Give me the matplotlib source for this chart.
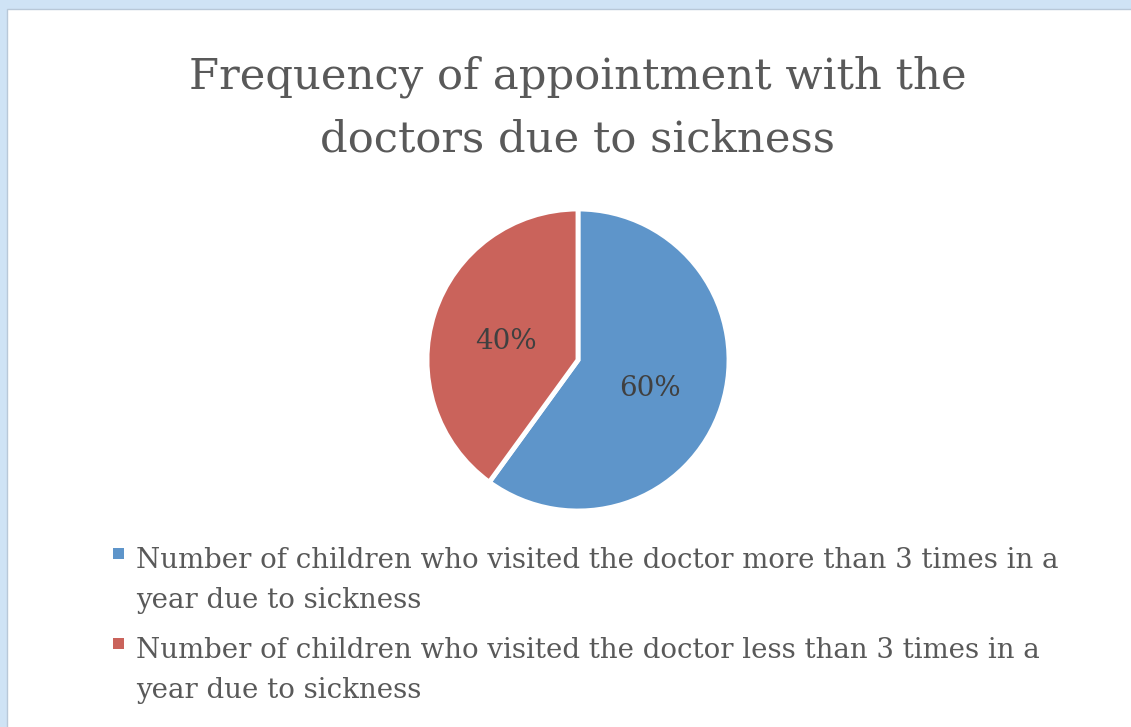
import matplotlib
matplotlib.use("Agg")
import matplotlib.pyplot as plt
from matplotlib.patches import Rectangle
from matplotlib.transforms import offset_copy

title_lines = ["Frequency of appointment with the", "doctors due to sickness"]
categories = [
    "Number of children who visited the doctor more than 3 times in a\nyear due to sickness",
    "Number of children who visited the doctor less than 3 times in a\nyear due to sickness",
]
values = [60, 40]
colors = ["#5E95CA", "#CA635B"]

W, H = 1131, 727
dpi = 100
fig = plt.figure(figsize=(W / dpi, H / dpi), dpi=dpi)
fig.patch.set_facecolor("#CFE3F5")
fig.patches.append(Rectangle((7 / W, -0.01), 1, 1.01 - 9 / H, transform=fig.transFigure,
                             facecolor="white", edgecolor="#B8C8D8", linewidth=1, zorder=-10))

font = ["DejaVu Serif"]

def px(x, y):
    return x / W, 1 - y / H

for line, yb in zip(title_lines, [89, 152]):
    fig.text(*px(578, yb), line, ha="center", va="baseline", fontsize=31.2,
             color="#595959", family=font)

# pie axes: center (578, 360), radius 151
r = 151
ax = fig.add_axes([(578 - r) / W, 1 - (360 + r) / H, 2 * r / W, 2 * r / H])
wedges, texts, autotexts = ax.pie(
    values, colors=colors, startangle=90, counterclock=False,
    autopct=lambda p: f"{p:.0f}%", pctdistance=0.5,
    wedgeprops=dict(edgecolor="white", linewidth=3.5),
    textprops=dict(fontsize=20, color="#404040", family=font),
    radius=1.0,
)
for t in autotexts:
    t.set_transform(offset_copy(t.get_transform(), fig=fig, x=0, y=-5, units="dots"))
ax.set_xlim(-1.0, 1.0)
ax.set_ylim(-1.0, 1.0)
ax.set_aspect("equal")
ax.axis("off")

# legend, laid out as in the reference (marker beside the first line)
item_baselines = [568, 658]
for wedge, label, yb in zip(wedges, categories, item_baselines):
    fig.patches.append(Rectangle(px(113, yb - 9), 11 / W, 11 / H, transform=fig.transFigure,
                                 facecolor=wedge.get_facecolor(), edgecolor="none"))
    for k, ln in enumerate(label.split("\n")):
        fig.text(*px(136, yb + 40 * k), ln, ha="left", va="baseline", fontsize=19.9,
                 color="#595959", family=font)

fig.savefig("out.png", dpi=dpi)
